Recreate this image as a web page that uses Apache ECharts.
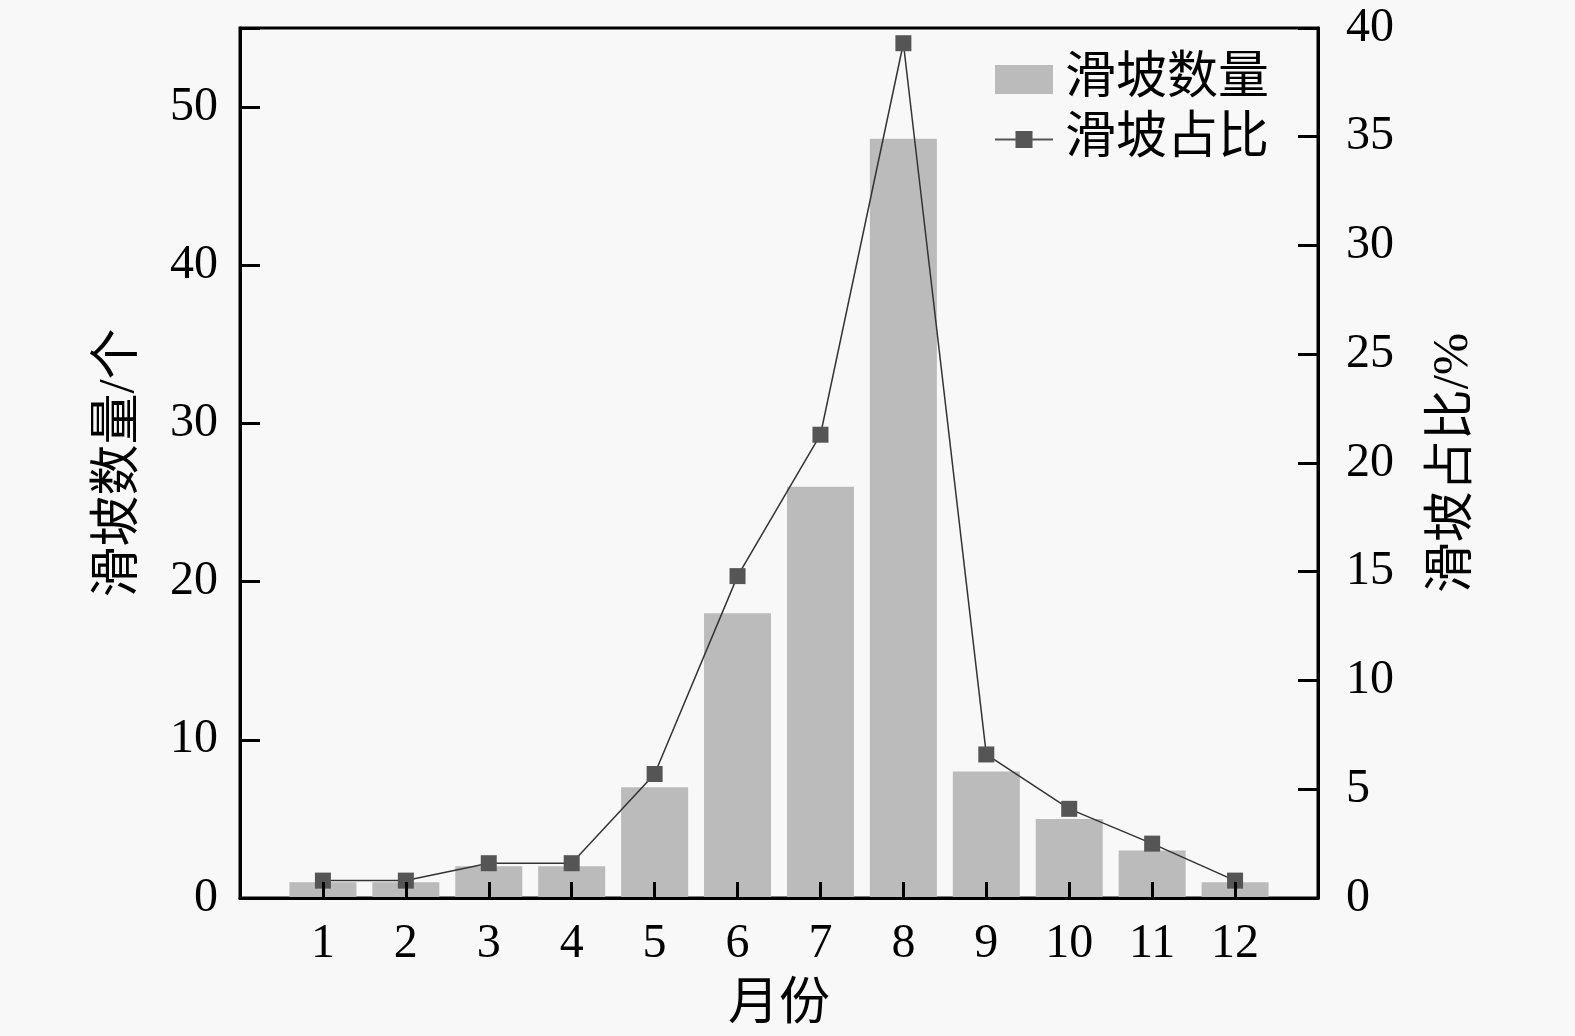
<!DOCTYPE html>
<html>
<head>
<meta charset="utf-8">
<script src="https://cdn.jsdelivr.net/npm/echarts@6/dist/echarts.min.js"></script>
<style>
  html, body { margin: 0; padding: 0; background: #f8f8f8; }
  #chart { width: 1575px; height: 1036px; }
</style>
</head>
<body>
<div id="chart"></div>
<script>
// 月份
const months = [1, 2, 3, 4, 5, 6, 7, 8, 9, 10, 11, 12];
// 滑坡数量 (个)
const counts = [1, 1, 2, 2, 7, 18, 26, 48, 8, 5, 3, 1];
// 滑坡占比 (%)
const ratios = [0.8, 0.8, 1.6, 1.6, 5.7, 14.8, 21.3, 39.3, 6.6, 4.1, 2.5, 0.8];

const font = '"Liberation Serif", "Times New Roman", "Noto Sans CJK SC", serif';

const chart = echarts.init(document.getElementById('chart'));

chart.setOption({
  backgroundColor: '#f8f8f8',
  animation: false,
  textStyle: { fontFamily: font, color: '#000' },
  grid: {
    left: 240, right: 257, top: 28, bottom: 138,
    show: true, borderColor: '#000', borderWidth: 3, backgroundColor: 'transparent'
  },
  legend: {
    right: 301, top: 49,
    orient: 'vertical',
    itemWidth: 58, itemHeight: 29, itemGap: 9,
    textStyle: { fontSize: 51, fontFamily: font, color: '#000', padding: [0, 0, 0, 7] },
    data: [
      { name: '滑坡数量', icon: 'rect' },
      { name: '滑坡占比', icon: 'path://M0,13.5H20.5V6H37.5V13.5H58V15.5H37.5V23H20.5V15.5H0Z' }
    ]
  },
  xAxis: {
    type: 'value',
    min: 0, max: 13, interval: 1,
    z: 10,
    name: '月份',
    nameLocation: 'middle',
    nameGap: 82,
    nameTextStyle: { fontSize: 51, fontFamily: font },
    axisLine: { lineStyle: { color: '#000', width: 3 } },
    axisTick: { inside: true, length: 16, lineStyle: { color: '#000', width: 3 } },
    axisLabel: {
      fontSize: 48, margin: 22, color: '#000',
      formatter: v => (v >= 1 && v <= 12 ? String(v) : '')
    },
    splitLine: { show: false }
  },
  yAxis: [
    {
      type: 'value',
      min: 0, max: 55, interval: 10,
      name: '滑坡数量/个',
      nameLocation: 'middle',
      nameRotate: 90,
      nameGap: 95,
      nameTextStyle: { fontSize: 51, fontFamily: font },
      axisLine: { show: true, lineStyle: { color: '#000', width: 3 } },
      axisTick: { show: true, inside: true, length: 20, lineStyle: { color: '#000', width: 3 } },
      axisLabel: {
        fontSize: 48, margin: 22, color: '#000',
        formatter: v => (v <= 50 ? String(v) : '')
      },
      splitLine: { show: false }
    },
    {
      type: 'value',
      min: 0, max: 40, interval: 5,
      name: '滑坡占比/%',
      nameLocation: 'middle',
      nameRotate: 90,
      nameGap: 110,
      nameTextStyle: { fontSize: 51, fontFamily: font },
      axisLine: { show: true, lineStyle: { color: '#000', width: 3 } },
      axisTick: { show: true, inside: true, length: 20, lineStyle: { color: '#000', width: 3 } },
      axisLabel: { fontSize: 48, margin: 28, color: '#000' },
      splitLine: { show: false }
    }
  ],
  series: [
    {
      name: '滑坡数量',
      type: 'bar',
      yAxisIndex: 0,
      barWidth: 67,
      itemStyle: { color: '#bbbbbb' },
      data: months.map((m, i) => [m, counts[i]])
    },
    {
      name: '滑坡占比',
      type: 'line',
      yAxisIndex: 1,
      symbol: 'rect',
      symbolSize: 16,
      itemStyle: { color: '#555555' },
      lineStyle: { color: '#333333', width: 1.5 },
      data: months.map((m, i) => [m, ratios[i]])
    }
  ]
});
</script>
</body>
</html>
